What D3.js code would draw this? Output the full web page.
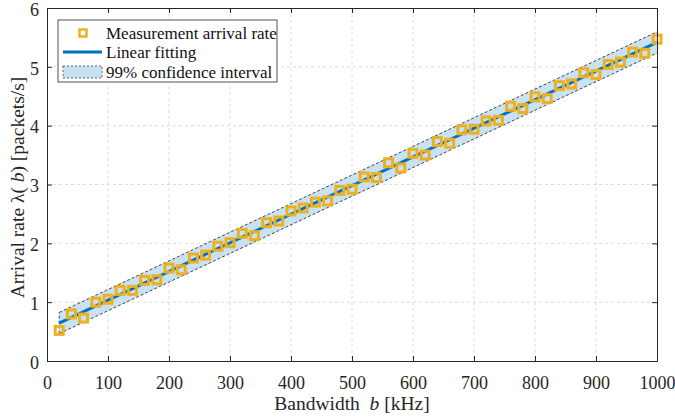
<!DOCTYPE html>
<html><head><meta charset="utf-8">
<script src="https://cdn.jsdelivr.net/npm/d3@7"></script>
<style>body{margin:0;background:#fff;} svg{display:block;}</style>
</head><body>
<svg id="c" width="675" height="420"></svg>
<script>
const bandwidth = [20,40,60,80,100,120,140,160,180,200,220,240,260,280,300,320,340,360,380,400,420,440,460,480,500,520,540,560,580,600,620,640,660,680,700,720,740,760,780,800,820,840,860,880,900,920,940,960,980,1000];
const arrivalRate = [0.52,0.80,0.73,1.00,1.05,1.20,1.20,1.37,1.38,1.58,1.55,1.75,1.80,1.95,2.01,2.17,2.13,2.35,2.38,2.55,2.60,2.70,2.72,2.90,2.92,3.13,3.12,3.37,3.28,3.53,3.50,3.73,3.70,3.93,3.94,4.08,4.09,4.33,4.29,4.49,4.46,4.68,4.71,4.90,4.87,5.04,5.08,5.25,5.23,5.47];
const ciHalfWidth = 0.18;
const xTicks = [0,100,200,300,400,500,600,700,800,900,1000];
const yTicks = [0,1,2,3,4,5,6];
const legendLabels = ["Measurement arrival rate","Linear fitting","99% confidence interval"];

// least-squares fit
const n = bandwidth.length;
const mx = d3.mean(bandwidth), my = d3.mean(arrivalRate);
let sxy=0, sxx=0;
for(let i=0;i<n;i++){sxy+=(bandwidth[i]-mx)*(arrivalRate[i]-my);sxx+=(bandwidth[i]-mx)**2;}
const slope = sxy/sxx, icpt = my - slope*mx;
const fit = b => icpt + slope*b;
const xEnds = [bandwidth[0], bandwidth[n-1]];

const svg = d3.select("#c");
const L=47, R=657, T=8, B=361;
const x = d3.scaleLinear().domain([0,1000]).range([L,R]);
const y = d3.scaleLinear().domain([0,6]).range([B,T]);
const font = "'Liberation Serif','Times New Roman',serif";
const axCol = "#262626";

// grid
const g = svg.append("g");
g.selectAll(".gx").data(xTicks.slice(1,-1)).join("line")
 .attr("x1",d=>x(d)).attr("x2",d=>x(d)).attr("y1",T).attr("y2",B)
 .attr("stroke","#dcdcdc").attr("stroke-width",1).attr("stroke-dasharray","3,3");
g.selectAll(".gy").data(yTicks.slice(1,-1)).join("line")
 .attr("y1",d=>y(d)).attr("y2",d=>y(d)).attr("x1",L).attr("x2",R)
 .attr("stroke","#dcdcdc").attr("stroke-width",1).attr("stroke-dasharray","3,3");

// confidence band
const bandPts = xEnds.map(b=>({b, lo:fit(b)-ciHalfWidth, hi:fit(b)+ciHalfWidth}));
svg.append("path").datum(bandPts)
 .attr("d", d3.area().x(d=>x(d.b)).y0(d=>y(d.lo)).y1(d=>y(d.hi)))
 .attr("fill","#c9e2f3").attr("stroke","none");
const dashLine = d3.line().x(d=>x(d[0])).y(d=>y(d[1]));
[[ [xEnds[0],bandPts[0].hi],[xEnds[1],bandPts[1].hi] ],
 [ [xEnds[0],bandPts[0].lo],[xEnds[1],bandPts[1].lo] ],
 [ [xEnds[0],bandPts[0].lo],[xEnds[0],bandPts[0].hi] ]].forEach(seg=>{
  svg.append("path").datum(seg).attr("d",dashLine)
   .attr("fill","none").attr("stroke","#444").attr("stroke-width",1).attr("stroke-dasharray","3,2");
});

// fit line
svg.append("path").datum(xEnds.map(b=>[b,fit(b)])).attr("d",dashLine)
 .attr("fill","none").attr("stroke","#0072BD").attr("stroke-width",3);

// markers
const ms = 8;
svg.selectAll(".pt").data(bandwidth.map((b,i)=>[b,arrivalRate[i]])).join("rect")
 .attr("x",d=>x(d[0])-ms/2).attr("y",d=>y(d[1])-ms/2).attr("width",ms).attr("height",ms)
 .attr("fill","none").attr("stroke","#EDB120").attr("stroke-width",3);

// axes
const xAx = svg.append("g").attr("transform",`translate(0,${B})`)
 .call(d3.axisBottom(x).tickValues(xTicks).tickSize(-5).tickPadding(15).tickFormat(d3.format("d")));
const xAxT = svg.append("g").attr("transform",`translate(0,${T})`)
 .call(d3.axisTop(x).tickValues(xTicks).tickSize(-5).tickFormat(""));
const yAx = svg.append("g").attr("transform",`translate(${L},0)`)
 .call(d3.axisLeft(y).tickValues(yTicks).tickSize(-5).tickPadding(8).tickFormat(d3.format("d")));
const yAxR = svg.append("g").attr("transform",`translate(${R},0)`)
 .call(d3.axisRight(y).tickValues(yTicks).tickSize(-5).tickFormat(""));
[xAx,xAxT,yAx,yAxR].forEach(a=>{
  a.select(".domain").attr("stroke",axCol).attr("stroke-width",1);
  a.selectAll(".tick line").attr("stroke",axCol);
  a.selectAll("text").attr("font-family",font).attr("font-size",18).attr("fill",axCol);
});
yAx.selectAll("text").attr("dy","0.4em");

// axis labels
const xl = svg.append("text").attr("x",(L+R)/2).attr("y",410).attr("text-anchor","middle")
 .attr("font-family",font).attr("font-size",19.5).attr("fill",axCol);
xl.append("tspan").text("Bandwidth\u00A0\u00A0");
xl.append("tspan").attr("font-style","italic").text("b");
xl.append("tspan").text(" [kHz]");
const yl = svg.append("text").attr("transform",`translate(24,${(T+B)/2 + 3}) rotate(-90)`).attr("text-anchor","middle")
 .attr("font-family",font).attr("font-size",19.5).attr("fill",axCol);
yl.append("tspan").text("Arrival rate \u03BB(\u00A0");
yl.append("tspan").attr("font-style","italic").text("b");
yl.append("tspan").text(") [packets/s]");

// legend
const lg = svg.append("g");
lg.append("rect").attr("x",58).attr("y",20).attr("width",219).attr("height",62)
 .attr("fill","#fff").attr("stroke","#262626").attr("stroke-width",0.8);
const rows=[33,52,72];
lg.append("rect").attr("x",83-3.5).attr("y",rows[0]-3.5).attr("width",7).attr("height",7)
 .attr("fill","none").attr("stroke","#EDB120").attr("stroke-width",2.5);
lg.append("line").attr("x1",63).attr("x2",102).attr("y1",rows[1]).attr("y2",rows[1])
 .attr("stroke","#0072BD").attr("stroke-width",3);
lg.append("rect").attr("x",63).attr("y",rows[2]-6).attr("width",39).attr("height",12)
 .attr("fill","#c9e2f3").attr("stroke","#444").attr("stroke-width",0.8).attr("stroke-dasharray","2,2");
lg.selectAll(".lt").data(legendLabels).join("text")
 .attr("x",106).attr("y",(d,i)=>rows[i]+6).text(d=>d)
 .attr("font-family",font).attr("font-size",17).attr("fill","#111");
</script>
</body></html>
